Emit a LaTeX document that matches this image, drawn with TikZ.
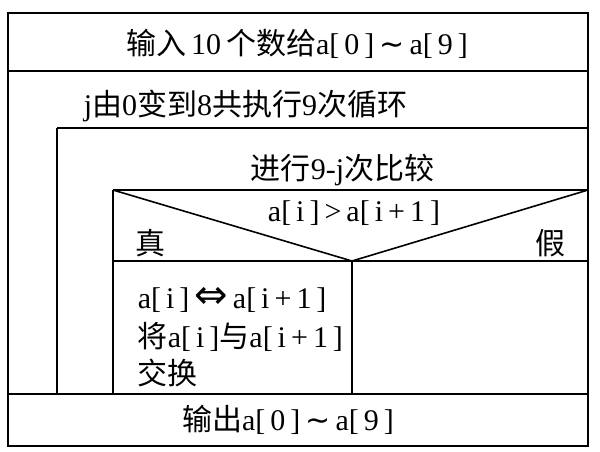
\documentclass[tikz,border=0pt]{standalone}
\usepackage{fontspec}
\setmainfont{Liberation Serif}
\newfontfamily\cjk{Noto Sans CJK SC}
\newfontfamily\symfont{DejaVu Sans}
\newcommand{\zh}[1]{{\cjk #1}}
\newcommand{\sy}[1]{{\symfont #1}}
\newcommand{\bigsy}[1]{{\fontsize{40}{40}\selectfont\symfont #1}}
\begin{document}
\begin{tikzpicture}[x=1pt,y=-1pt,line width=1.6pt]
\tikzstyle{every node}=[font=\fontsize{30}{37}\selectfont, inner sep=0pt]
\tikzstyle{lefttext}=[anchor=west]
\useasboundingbox (0,0) rectangle (600,451);

% outer frame and the horizontal bars
\draw (8,13) rectangle (588,446);
\draw (8,71) -- (588,71);
\draw (57,128) -- (588,128);
\draw (113,190) -- (588,190);
\draw (113,261) -- (588,261);
\draw (8,394) -- (588,394);

% loop bars and branch column
\draw (57,128) -- (57,394);
\draw (113,190) -- (113,394);
\draw (352,261) -- (352,394);

% condition triangle
\draw (113,190) -- (352,261) -- (588,190);

\node (input) at (297,44) {\zh{输入}\,10\,\zh{个数给}a[\,0\,]\,\sy{∼}\,a[\,9\,]};
\node[lefttext] (outer) at (83,106) {j\zh{由}0\zh{变到}8\zh{共执行}9\zh{次循环}};
\node[lefttext] (inner) at (250,170) {\zh{进行}9-j\zh{次比较}};
\node (cond) at (354,213) {a[\,i\,]\,>\,a[\,i\,+\,1\,]};
\node (yes) at (150,243) {\zh{真}};
\node (no) at (550,243) {\zh{假}};
\node[lefttext] (swap) at (137,300) {a[\,i\,]\,\bigsy{⇔}\,a[\,i\,+\,1\,]};
\node[lefttext] (swapa) at (137,337) {\zh{将}a[\,i\,]\zh{与}a[\,i\,+\,1\,]};
\node[lefttext] (swapb) at (137,373) {\zh{交换}};
\node (output) at (288,420) {\zh{输出}a[\,0\,]\,\sy{∼}\,a[\,9\,]};
\end{tikzpicture}
\end{document}
